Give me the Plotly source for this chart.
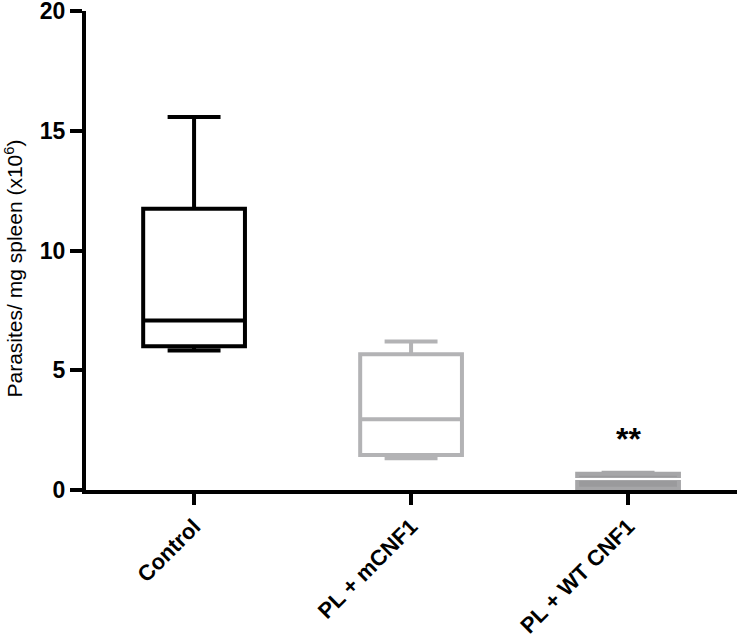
import plotly.graph_objects as go

categories = ["Control", "PL + mCNF1", "PL + WT CNF1"]
lower = [5.83, 1.33, 0.02]
q1 = [6.0, 1.46, 0.05]
median = [7.08, 2.96, 0.46]
q3 = [11.75, 5.67, 0.68]
upper = [15.58, 6.2, 0.72]
line_colors = ["#000000", "#b3b3b5", "#a6a6a8"]
fill_colors = ["rgba(255,255,255,0)", "rgba(255,255,255,0)", "#9a9a9c"]
y_ticks = [0, 5, 10, 15, 20]
significance = ["", "", "**"]
y_title = "Parasites/ mg spleen (x10<sup>6</sup>)"

FONT = "Liberation Sans, Arial"

fig = go.Figure()
for i, c in enumerate(categories):
    fig.add_trace(go.Box(
        x=[c], q1=[q1[i]], median=[median[i]], q3=[q3[i]],
        lowerfence=[lower[i]], upperfence=[upper[i]],
        line=dict(color=line_colors[i], width=4),
        fillcolor=fill_colors[i], whiskerwidth=0.52,
        boxpoints=False, showlegend=False, hoverinfo="skip",
    ))

boxgap = 0.33
half = (1 - boxgap) / 2
# white median for the filled box
fig.add_shape(type="line", xref="x", yref="y",
              x0=2 - half + 0.02, x1=2 + half - 0.03,
              y0=median[2], y1=median[2],
              line=dict(color="white", width=2))

for i, s in enumerate(significance):
    if s:
        fig.add_annotation(x=categories[i], y=upper[i], text=s, showarrow=False,
                           yshift=34, font=dict(size=32, color="black",
                                                family=FONT, weight="bold"))

fig.add_annotation(xref="paper", yref="paper", x=0, y=0.5, xshift=-73, yshift=-18,
                   text=y_title, textangle=-90, showarrow=False,
                   xanchor="center", yanchor="middle",
                   font=dict(size=21, family=FONT, color="black"))

fig.update_layout(
    width=737, height=637,
    margin=dict(l=86, r=0, t=11, b=147),
    paper_bgcolor="white", plot_bgcolor="white",
    boxgap=boxgap,
    font=dict(family=FONT, color="black"),
    xaxis=dict(type="category", categoryorder="array", categoryarray=categories,
               range=[-0.498, 2.502], showline=True, linecolor="black", linewidth=4,
               ticks="outside", ticklen=11, tickwidth=4, tickcolor="black",
               tickangle=-45, showgrid=False, zeroline=False, automargin=False,
               tickfont=dict(size=22, family=FONT, weight="bold")),
    yaxis=dict(range=[0, 20.01], tickvals=y_ticks, showline=True, linecolor="black",
               linewidth=4, ticks="outside", ticklen=12, tickwidth=4, tickcolor="black",
               showgrid=False, zeroline=False, automargin=False,
               ticklabeloverflow="allow",
               tickfont=dict(size=23, family=FONT, weight="bold")),
)

fig.write_html("out.html", config={"displayModeBar": False},
               post_script="document.body.style.margin='0';")
